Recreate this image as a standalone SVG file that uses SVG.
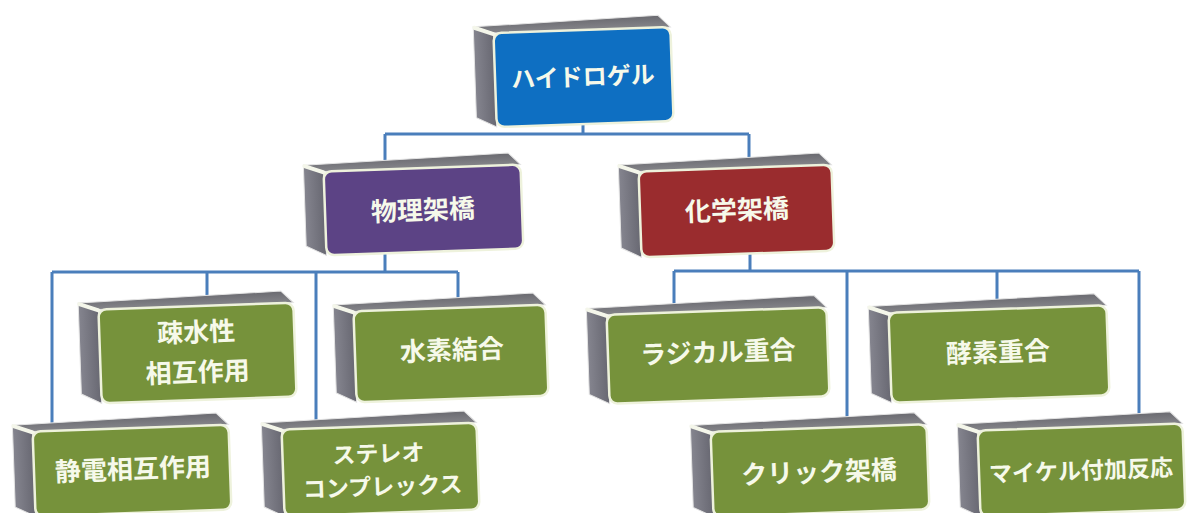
<svg xmlns="http://www.w3.org/2000/svg" width="1187" height="513" viewBox="0 0 1187 513">
<defs>
<linearGradient id="gTop" x1="0" y1="0" x2="0" y2="1">
<stop offset="0" stop-color="#6a6a70"/>
<stop offset="1" stop-color="#85858a"/>
</linearGradient>
<linearGradient id="gSide" x1="0" y1="0" x2="1" y2="0">
<stop offset="0" stop-color="#85858f"/>
<stop offset="1" stop-color="#686872"/>
</linearGradient>
<style>
.top{fill:url(#gTop);stroke:#e4e4e4;stroke-width:1}
.side{fill:url(#gSide);stroke:#e4e4e4;stroke-width:1}
.bev{stroke:#f4f6ea;stroke-width:4;stroke-linecap:round;fill:none}
.face{stroke:#eef2dc;stroke-width:2.5}
.blue{fill:#0e6fc2}
.purple{fill:#5c4385}
.red{fill:#9a2c2e}
.green{fill:#76923b}
.t{font-family:"Noto Sans CJK JP","Noto Sans",sans-serif;font-weight:bold;fill:#f6f9ea;text-anchor:middle;dominant-baseline:central}
.conn{stroke:#4a7ebb;stroke-width:3;fill:none}
</style>
</defs>
<rect width="1187" height="513" fill="#ffffff"/>
<g id="connectors">
<path class="conn" d="M583 122V134M385 134H749M385 134V168M749 134V168"/>
<path class="conn" d="M385 250V272M52 272H458M52 272V428M207 272V306M316 272V426M458 272V308"/>
<path class="conn" d="M750 252V271M674 271H1139M674 271V311M847 271V428M997 271V309M1139 271V427"/>
</g>
<g id="n-hydrogel" transform="rotate(-2 583 76)">
<polygon class="top" points="475,23 660,18 672,30 495,30"/>
<polygon class="side" points="475,23 495,30 495,124 475,114"/>
<line class="bev" x1="476" y1="24" x2="495" y2="31"/>
<rect class="face blue" x="495" y="30" width="177" height="94" rx="8"/>
<text class="t" x="583" y="75" font-size="24">ハイドロゲル</text>
</g>
<g id="n-physical" transform="rotate(-2 423 210)">
<polygon class="top" points="305,161 510,156 522,168 325,168"/>
<polygon class="side" points="305,161 325,168 325,252 305,242"/>
<line class="bev" x1="306" y1="162" x2="325" y2="169"/>
<rect class="face purple" x="325" y="168" width="197" height="84" rx="8"/>
<text class="t" x="423" y="208" font-size="26">物理架橋</text>
</g>
<g id="n-chemical" transform="rotate(-2 737 211)">
<polygon class="top" points="620,161 821,156 833,168 640,168"/>
<polygon class="side" points="620,161 640,168 640,254 620,244"/>
<line class="bev" x1="621" y1="162" x2="640" y2="169"/>
<rect class="face red" x="640" y="168" width="193" height="86" rx="8"/>
<text class="t" x="737" y="208" font-size="26">化学架橋</text>
</g>
<g id="n-hydrophobic" transform="rotate(-2 197 353)">
<polygon class="top" points="80,299 283,294 295,306 100,306"/>
<polygon class="side" points="80,299 100,306 100,400 80,390"/>
<line class="bev" x1="81" y1="300" x2="100" y2="307"/>
<rect class="face green" x="100" y="306" width="195" height="94" rx="8"/>
<text class="t" x="197" y="330" font-size="26">疎水性</text>
<text class="t" x="197" y="370" font-size="26">相互作用</text>
</g>
<g id="n-hbond" transform="rotate(-2 451 354)">
<polygon class="top" points="335,301 535,296 547,308 355,308"/>
<polygon class="side" points="335,301 355,308 355,399 335,389"/>
<line class="bev" x1="336" y1="302" x2="355" y2="309"/>
<rect class="face green" x="355" y="308" width="192" height="91" rx="8"/>
<text class="t" x="452" y="348" font-size="26">水素結合</text>
</g>
<g id="n-radical" transform="rotate(-2 718 355)">
<polygon class="top" points="588,304 816,299 828,311 608,311"/>
<polygon class="side" points="588,304 608,311 608,400 588,390"/>
<line class="bev" x1="589" y1="305" x2="608" y2="312"/>
<rect class="face green" x="608" y="311" width="220" height="89" rx="8"/>
<text class="t" x="718" y="350" font-size="26">ラジカル重合</text>
</g>
<g id="n-enzyme" transform="rotate(-2 999 354)">
<polygon class="top" points="870,302 1096,297 1108,309 890,309"/>
<polygon class="side" points="870,302 890,309 890,399 870,389"/>
<line class="bev" x1="871" y1="303" x2="890" y2="310"/>
<rect class="face green" x="890" y="309" width="218" height="90" rx="8"/>
<text class="t" x="998" y="350" font-size="26">酵素重合</text>
</g>
<g id="n-electrostatic" transform="rotate(-2 132 470)">
<polygon class="top" points="14,421 218,416 230,428 34,428"/>
<polygon class="side" points="14,421 34,428 34,513 14,503"/>
<line class="bev" x1="15" y1="422" x2="34" y2="429"/>
<rect class="face green" x="34" y="428" width="196" height="85" rx="8"/>
<text class="t" x="133" y="467" font-size="26">静電相互作用</text>
</g>
<g id="n-stereo" transform="rotate(-2 380 469)">
<polygon class="top" points="263,419 466,414 478,426 283,426"/>
<polygon class="side" points="263,419 283,426 283,513 263,503"/>
<line class="bev" x1="264" y1="420" x2="283" y2="427"/>
<rect class="face green" x="283" y="426" width="195" height="87" rx="8"/>
<text class="t" x="379" y="452" font-size="23">ステレオ</text>
<text class="t" x="382" y="485" font-size="23">コンプレックス</text>
</g>
<g id="n-click" transform="rotate(-2 820 470)">
<polygon class="top" points="692,421 916,416 928,428 712,428"/>
<polygon class="side" points="692,421 712,428 712,513 692,503"/>
<line class="bev" x1="693" y1="422" x2="712" y2="429"/>
<rect class="face green" x="712" y="428" width="216" height="85" rx="8"/>
<text class="t" x="819" y="470" font-size="26">クリック架橋</text>
</g>
<g id="n-michael" transform="rotate(-2 1081 470)">
<polygon class="top" points="959,420 1172,415 1184,427 979,427"/>
<polygon class="side" points="959,420 979,427 979,513 959,503"/>
<line class="bev" x1="960" y1="421" x2="979" y2="428"/>
<rect class="face green" x="979" y="427" width="205" height="86" rx="8"/>
<text class="t" x="1081" y="469" font-size="23">マイケル付加反応</text>
</g>
</svg>
